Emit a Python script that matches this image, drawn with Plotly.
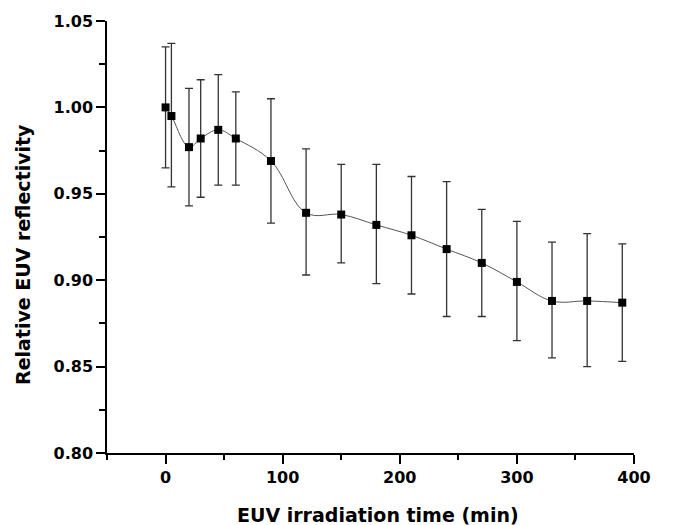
import plotly.graph_objects as go

time_min = [0, 5, 20, 30, 45, 60, 90, 120, 150, 180, 210, 240, 270, 300, 330, 360, 390]
reflectivity = [1.000, 0.995, 0.977, 0.982, 0.987, 0.982, 0.969, 0.939, 0.938, 0.932,
                0.926, 0.918, 0.910, 0.899, 0.888, 0.888, 0.887]
err_top = [1.035, 1.037, 1.011, 1.016, 1.019, 1.009, 1.005, 0.976, 0.967, 0.967,
           0.960, 0.957, 0.941, 0.934, 0.922, 0.927, 0.921]
err_bottom = [0.965, 0.954, 0.943, 0.948, 0.955, 0.955, 0.933, 0.903, 0.910, 0.898,
              0.892, 0.879, 0.879, 0.865, 0.855, 0.850, 0.853]

err_plus = [t - v for t, v in zip(err_top, reflectivity)]
err_minus = [v - b for b, v in zip(err_bottom, reflectivity)]

fig = go.Figure()
fig.add_trace(go.Scatter(
    x=time_min, y=reflectivity, mode="lines",
    line=dict(shape="spline", smoothing=1.1, color="#555555", width=1),
    hoverinfo="skip", showlegend=False,
))
fig.add_trace(go.Scatter(
    x=time_min, y=reflectivity, mode="markers",
    marker=dict(symbol="square", size=8, color="black"),
    error_y=dict(type="data", symmetric=False, array=err_plus, arrayminus=err_minus,
                 color="#333333", thickness=1.3, width=4),
    showlegend=False,
))

font_family = "DejaVu Sans, Liberation Sans, sans-serif"
axis_common = dict(
    showgrid=False, zeroline=False, automargin=False,
    showline=True, linecolor="black", linewidth=1.5,
    ticks="outside", ticklen=9, tickwidth=1.5, tickcolor="black",
    tickfont=dict(size=16, family=font_family, weight="bold", color="black"),
)
# page body has an 8px margin, so the figure is sized/offset to compensate
fig.update_layout(
    width=670, height=517,
    margin=dict(l=99, r=44, t=13, b=72),
    paper_bgcolor="white", plot_bgcolor="white",
    font=dict(family=font_family, color="black"),
    xaxis=dict(
        range=[-50, 400], tick0=0, dtick=100,
        minor=dict(ticks="outside", ticklen=5, tickwidth=1.5, tickcolor="black", dtick=50, tick0=0),
        **axis_common,
    ),
    yaxis=dict(
        range=[0.80, 1.05], tick0=0.80, dtick=0.05, tickformat=".2f",
        minor=dict(ticks="outside", ticklen=6, tickwidth=1.5, tickcolor="black", dtick=0.025, tick0=0.80),
        **axis_common,
    ),
    annotations=[
        dict(text="<b>EUV irradiation time (min)</b>", xref="paper", yref="paper",
             x=0.5, y=0, xanchor="center", yanchor="middle", xshift=7, yshift=-62,
             showarrow=False, font=dict(size=19, family=font_family, color="black")),
        dict(text="<b>Relative EUV reflectivity</b>", xref="paper", yref="paper",
             x=0, y=0.5, xanchor="center", yanchor="middle", xshift=-84, yshift=-18,
             textangle=-90, showarrow=False,
             font=dict(size=19, family=font_family, color="black")),
    ],
)

fig.write_html("out.html")
